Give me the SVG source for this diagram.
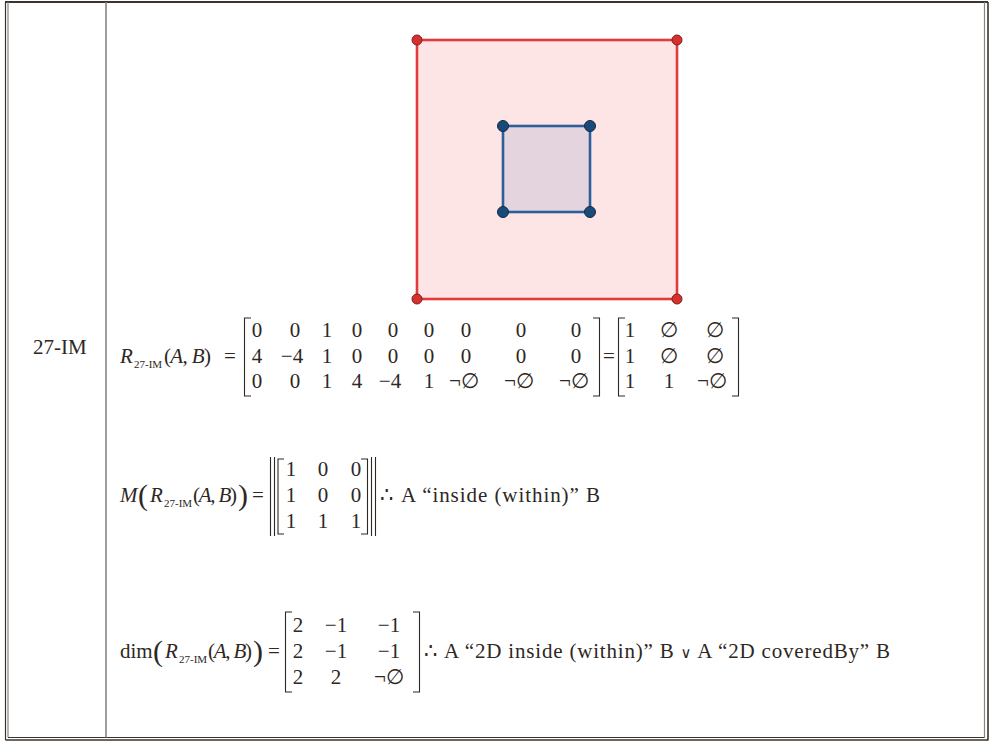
<svg xmlns="http://www.w3.org/2000/svg" width="990" height="741" viewBox="0 0 990 741">
<defs>
<style>
.t{font-family:"Liberation Serif","DejaVu Serif",serif;font-size:21px;fill:#2e2724}
.i{font-style:italic}
.m{text-anchor:middle}
.sub{font-size:11px}
.big{font-size:30px}
.br{fill:none;stroke:#2e2724;stroke-width:1.1}
.dark{stroke:#3a332e;fill:none}
.grey{stroke:#8a8480;fill:none}
</style>
</defs>
<rect width="990" height="741" fill="#ffffff"/>
<g id="table">
<line class="dark" x1="5" y1="2" x2="988" y2="2" stroke-width="2"/>
<line class="dark" x1="5.5" y1="2" x2="5.5" y2="740" stroke-width="1.2"/>
<line class="grey" x1="8" y1="2" x2="8" y2="737.5" stroke-width="1.2"/>
<line class="grey" x1="984.5" y1="2" x2="984.5" y2="737.5" stroke-width="1.2"/>
<line class="dark" x1="988" y1="2" x2="988" y2="740.5" stroke-width="1.6"/>
<line class="dark" x1="8" y1="737.5" x2="984.5" y2="737.5" stroke-width="1.2"/>
<line class="dark" x1="5.5" y1="740" x2="988" y2="740" stroke-width="1.4"/>
<line class="grey" x1="106" y1="2" x2="106" y2="737.5" stroke-width="1.6"/>
</g>
<g id="label"><text class="t" x="33" y="354" font-size="20">27-IM</text></g>
<g id="regionA">
<rect x="417" y="40" width="260" height="259" fill="#fde5e6" stroke="#e23b3b" stroke-width="2.6"/>
<g fill="#d8302f" stroke="#7a2020" stroke-width="1">
<circle cx="417" cy="40" r="5"/><circle cx="677" cy="40" r="5"/>
<circle cx="417" cy="299" r="5"/><circle cx="677" cy="299" r="5"/>
</g>
</g>
<g id="regionB">
<rect x="503" y="126" width="87" height="86" fill="#e4d4dd" stroke="#2d5e9c" stroke-width="2.6"/>
<g fill="#1b4a78" stroke="#0e2a48" stroke-width="1">
<circle cx="503" cy="126" r="5.5"/><circle cx="590" cy="126" r="5.5"/>
<circle cx="503" cy="212" r="5.5"/><circle cx="590" cy="212" r="5.5"/>
</g>
</g>
<g id="eq1">
<text class="t i" x="120" y="363">R</text>
<text class="t sub" x="134" y="368">27-IM</text>
<text class="t" x="164" y="363" textLength="47">(<tspan class="i">A</tspan>, <tspan class="i">B</tspan>)</text>
<text class="t" x="224" y="363">=</text>
<path class="br" d="M251 318H244.5V396H251M593 318H599.5V396H593"/>
<g class="t m">
<text x="257" y="337">0</text><text x="295" y="337">0</text><text x="327" y="337">1</text><text x="357" y="337">0</text><text x="393" y="337">0</text><text x="429" y="337">0</text><text x="466" y="337">0</text><text x="521" y="337">0</text><text x="576" y="337">0</text>
<text x="257" y="363">4</text><text x="292" y="363">−4</text><text x="327" y="363">1</text><text x="357" y="363">0</text><text x="393" y="363">0</text><text x="429" y="363">0</text><text x="466" y="363">0</text><text x="521" y="363">0</text><text x="576" y="363">0</text>
<text x="257" y="388">0</text><text x="295" y="388">0</text><text x="327" y="388">1</text><text x="357" y="388">4</text><text x="390" y="388">−4</text><text x="429" y="388">1</text><text x="464" y="388">¬∅</text><text x="519" y="388">¬∅</text><text x="574" y="388">¬∅</text>
</g>
<text class="t m" x="609" y="363">=</text>
<path class="br" d="M625 318H618.5V396H625M732 318H738.5V396H732"/>
<g class="t m">
<text x="630" y="337">1</text><text x="669" y="337">∅</text><text x="715" y="337">∅</text>
<text x="630" y="363">1</text><text x="669" y="363">∅</text><text x="715" y="363">∅</text>
<text x="630" y="388">1</text><text x="669" y="388">1</text><text x="712" y="388">¬∅</text>
</g>
</g>
<g id="eq2">
<text class="t i" x="120" y="502">M</text>
<text class="t big" x="138" y="505">(</text>
<text class="t i" x="150" y="502">R</text>
<text class="t sub" x="164" y="507">27-IM</text>
<text class="t" x="193" y="502" textLength="44">(<tspan class="i">A</tspan>, <tspan class="i">B</tspan>)</text>
<text class="t big" x="238" y="505">)</text>
<text class="t" x="252" y="502">=</text>
<path class="br" d="M270.5 457V536M274.5 457V536M284 459H278V534H284M361 459H367.5V534H361M371.5 457V536M375.5 457V536"/>
<g class="t m">
<text x="291" y="476">1</text><text x="323" y="476">0</text><text x="356" y="476">0</text>
<text x="291" y="502">1</text><text x="323" y="502">0</text><text x="356" y="502">0</text>
<text x="291" y="528">1</text><text x="323" y="528">1</text><text x="356" y="528">1</text>
</g>
<text class="t" x="380" y="502">∴</text>
<text class="t" x="401" y="502" font-size="22" textLength="199">A “inside (within)” B</text>
</g>
<g id="eq3">
<text class="t" x="120" y="658">dim</text>
<text class="t big" x="153" y="661">(</text>
<text class="t i" x="165" y="658">R</text>
<text class="t sub" x="179" y="663">27-IM</text>
<text class="t" x="208" y="658" textLength="44">(<tspan class="i">A</tspan>, <tspan class="i">B</tspan>)</text>
<text class="t big" x="253" y="661">)</text>
<text class="t" x="268" y="658">=</text>
<path class="br" d="M292 612H285.5V692H292M413 612H419.5V692H413"/>
<g class="t m">
<text x="298" y="632">2</text><text x="336" y="632">−1</text><text x="389" y="632">−1</text>
<text x="298" y="658">2</text><text x="336" y="658">−1</text><text x="389" y="658">−1</text>
<text x="298" y="684">2</text><text x="336" y="684">2</text><text x="389" y="684">¬∅</text>
</g>
<text class="t" x="424" y="658">∴</text>
<text class="t" x="444" y="658" font-size="22" textLength="446">A “2D inside (within)” B <tspan font-size="15" font-weight="normal">∨</tspan> A “2D coveredBy” B</text>
</g>
</svg>
